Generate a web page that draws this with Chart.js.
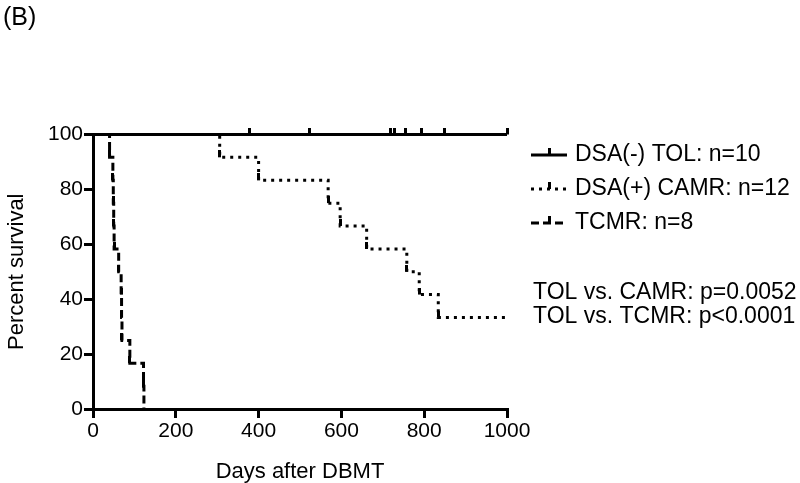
<!DOCTYPE html>
<html><head><meta charset="utf-8">
<script src="https://cdn.jsdelivr.net/npm/chart.js@4"></script>
<style>html,body{margin:0;padding:0;background:#fff}canvas{display:block}</style>
</head><body>
<canvas id="c" width="800" height="483"></canvas>
<script>
// ---- text ----
const panelLabel = '(B)';
const xTitle = 'Days after DBMT';
const yTitle = 'Percent survival';
const seriesNames = ['DSA(-) TOL: n=10', 'DSA(+) CAMR: n=12', 'TCMR: n=8'];
const pValueLines = ['TOL vs. CAMR: p=0.0052', 'TOL vs. TCMR: p<0.0001'];
const xTicks = [0, 200, 400, 600, 800, 1000];
const yTicks = [0, 20, 40, 60, 80, 100];

// ---- series (day, percent surviving after that day) ----
const tolDays     = [0, 377, 524, 718, 728, 754, 794, 849, 1000];
const tolSurvival = [100, 100, 100, 100, 100, 100, 100, 100, 100];
const tolCensored = [0, 1, 1, 1, 1, 1, 1, 1, 1];

const camrDays     = [0, 306, 400, 568, 597, 661, 758, 788, 834, 1000];
const camrSurvival = [100, 91.7, 83.3, 75, 66.7, 58.3, 50, 41.7, 33.3, 33.3];
const camrMarked   = [0, 1, 1, 1, 1, 1, 1, 1, 1, 0];

const tcmrDays     = [0, 40, 48, 49, 50, 51, 62, 68, 69, 70, 89, 122, 123];
const tcmrSurvival = [100, 91.7, 83.3, 75, 66.7, 58.3, 50, 41.7, 33.3, 25, 16.7, 8.3, 0];
const tcmrMarked   = [0, 1, 1, 1, 1, 1, 1, 1, 1, 1, 1, 1, 0];

const FONT = '"Liberation Sans", Arial, Helvetica, sans-serif';

function makeMark(w, h) {
  const c = document.createElement('canvas');
  c.width = w; c.height = h * 2;
  const g = c.getContext('2d');
  g.fillStyle = '#000';
  g.fillRect(0, 0, w, h);
  return c;
}
const censorMark = makeMark(3, 7);
const eventMark = makeMark(3, 7);

function pts(xs, ys) { return xs.map((x, i) => ({x: x, y: ys[i]})); }

const datasets = [
  { label: seriesNames[0], data: pts(tolDays, tolSurvival), borderColor: '#000', borderWidth: 3,
    borderDash: [], stepped: true, pointStyle: censorMark, pointRadius: tolCensored.map(v => v ? 4 : 0),
    clip: false, order: 0, mark: censorMark },
  { label: seriesNames[1], data: pts(camrDays, camrSurvival), borderColor: '#000', borderWidth: 3,
    borderDash: [3, 5], stepped: true, pointStyle: eventMark, pointRadius: camrMarked.map(v => v ? 4 : 0),
    clip: false, order: 1, mark: eventMark },
  { label: seriesNames[2], data: pts(tcmrDays, tcmrSurvival), borderColor: '#000', borderWidth: 3,
    borderDash: [8, 4], stepped: true, pointStyle: eventMark, pointRadius: tcmrMarked.map(v => v ? 4 : 0),
    clip: false, order: 2, mark: eventMark }
];

const overlay = {
  id: 'overlay',
  afterDraw(chart) {
    const {ctx, chartArea: a} = chart;
    ctx.save();
    ctx.fillStyle = '#000';
    ctx.textBaseline = 'middle';
    ctx.textAlign = 'left';
    ctx.font = '25px ' + FONT;
    ctx.fillText(panelLabel, 3, 18);
    const lx = a.right + 24, lw = 36, tx = a.right + 68;
    const rows = [a.top + 20.5, a.top + 54.5, a.top + 88.5];
    chart.data.datasets.forEach((ds, i) => {
      const y = rows[i];
      ctx.save();
      ctx.strokeStyle = ds.borderColor;
      ctx.lineWidth = ds.borderWidth;
      ctx.setLineDash(ds.borderDash || []);
      ctx.beginPath(); ctx.moveTo(lx, y); ctx.lineTo(lx + lw, y); ctx.stroke();
      ctx.restore();
      const m = ds.mark;
      ctx.drawImage(m, Math.round(lx + lw / 2 - m.width / 2), Math.round(y - m.height / 2));
      ctx.font = '23px ' + FONT;
      ctx.fillText(ds.label, tx, y);
    });
    ctx.font = '23px ' + FONT;
    pValueLines.forEach((t, i) => ctx.fillText(t, a.right + 26, a.top + 158 + i * 24));
    ctx.restore();
  }
};

new Chart(document.getElementById('c'), {
  type: 'line',
  data: { datasets: datasets },
  options: {
    responsive: false,
    animation: false,
    events: [],
    layout: { padding: { left: 0, right: 293, top: 134.5, bottom: 0 } },
    plugins: { legend: { display: false }, tooltip: { enabled: false } },
    scales: {
      x: {
        type: 'linear', min: 0, max: 1000,
        afterBuildTicks: s => { s.ticks = xTicks.map(v => ({value: v})); },
        afterFit: s => { s.height = 74; },
        grid: { drawOnChartArea: false, drawTicks: true, tickLength: 9, lineWidth: 3, color: '#000' },
        border: { display: true, width: 3, color: '#000' },
        ticks: { color: '#000', font: { family: FONT, size: 21 }, padding: 1, maxRotation: 0, callback: v => String(v) },
        title: { display: true, text: xTitle, color: '#000', font: { family: FONT, size: 22, lineHeight: 1 }, padding: { top: 0, bottom: 0 } }
      },
      y: {
        type: 'linear', min: 0, max: 100,
        afterBuildTicks: s => { s.ticks = yTicks.map(v => ({value: v})); },
        afterFit: s => { s.width = 93; },
        grid: { drawOnChartArea: false, drawTicks: true, tickLength: 9, lineWidth: 3, color: '#000' },
        border: { display: true, width: 3, color: '#000' },
        ticks: { color: '#000', font: { family: FONT, size: 21 }, padding: 1, callback: v => String(v) },
        title: { display: true, text: yTitle, color: '#000', font: { family: FONT, size: 22, lineHeight: 1 }, padding: { top: 6, bottom: 0 } }
      }
    }
  },
  plugins: [overlay]
});
</script>
</body></html>
